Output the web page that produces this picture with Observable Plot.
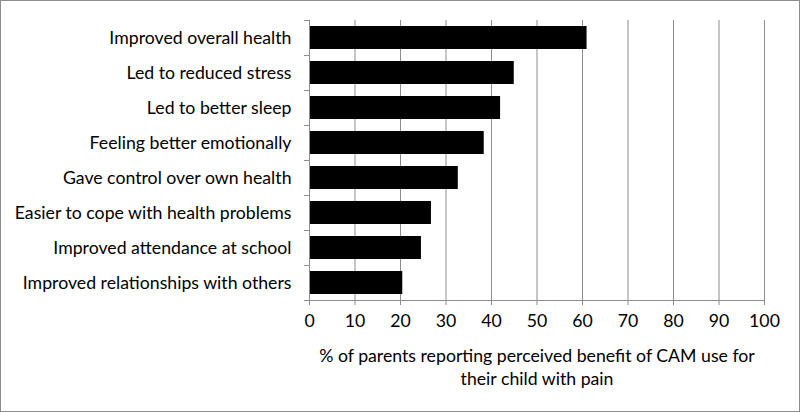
<!DOCTYPE html>
<html><head><meta charset="utf-8">
<script src="https://cdn.jsdelivr.net/npm/d3@7"></script>
<script src="https://cdn.jsdelivr.net/npm/@observablehq/plot@0.6"></script>
<style>
body{margin:0;background:#fff;}
#chart svg{display:block;outline:1px solid #8c8c8c;outline-offset:-1px;}
</style>
</head><body><div id="chart"></div>
<script>
const categories = [
  "Improved overall health",
  "Led to reduced stress",
  "Led to better sleep",
  "Feeling better emotionally",
  "Gave control over own health",
  "Easier to cope with health problems",
  "Improved attendance at school",
  "Improved relationships with others"
];
const values = [61, 45, 42, 38.4, 32.7, 26.8, 24.6, 20.5];
const xTicks = [0, 10, 20, 30, 40, 50, 60, 70, 80, 90, 100];
const xLabel = "% of parents reporting perceived benefit of CAM use for\ntheir child with pain";

const data = categories.map((c, i) => ({label: c, value: values[i]}));
const grey = "#8c8c8c";

const chart = Plot.plot({
  width: 800, height: 412,
  marginLeft: 309, marginRight: 36, marginTop: 20, marginBottom: 112,
  style: {fontFamily: "Lato, 'Open Sans', sans-serif", fontSize: "17.7px", color: "#000", background: "#fff"},
  x: {domain: [0, 100]},
  y: {domain: categories, paddingInner: 0.34, paddingOuter: 0.17},
  marks: [
    Plot.gridX({ticks: xTicks.slice(1), stroke: grey, strokeOpacity: 1}),
    Plot.barX(data, {x: "value", y: "label", fill: "black"}),
    Plot.ruleX([0], {stroke: grey}),
    Plot.ruleY([categories[categories.length - 1]], {x1: 0, x2: 100, dy: 17.5, stroke: grey}),
    Plot.axisX({ticks: xTicks, tickSize: 5, tickPadding: 9, stroke: grey, label: null}),
    Plot.text([xLabel], {frameAnchor: "bottom", lineAnchor: "top", dy: 45, lineHeight: 1.3, fill: "black"}),
    Plot.axisY({tickSize: 0, tickPadding: 18, label: null}),
    Plot.axisY({tickSize: 5, text: null, dy: -17.5, stroke: grey, label: null}),
    Plot.axisY([categories[categories.length - 1]], {tickSize: 5, text: null, dy: 17.5, stroke: grey, label: null})
  ]
});
document.getElementById("chart").appendChild(chart);
</script>
</body></html>
